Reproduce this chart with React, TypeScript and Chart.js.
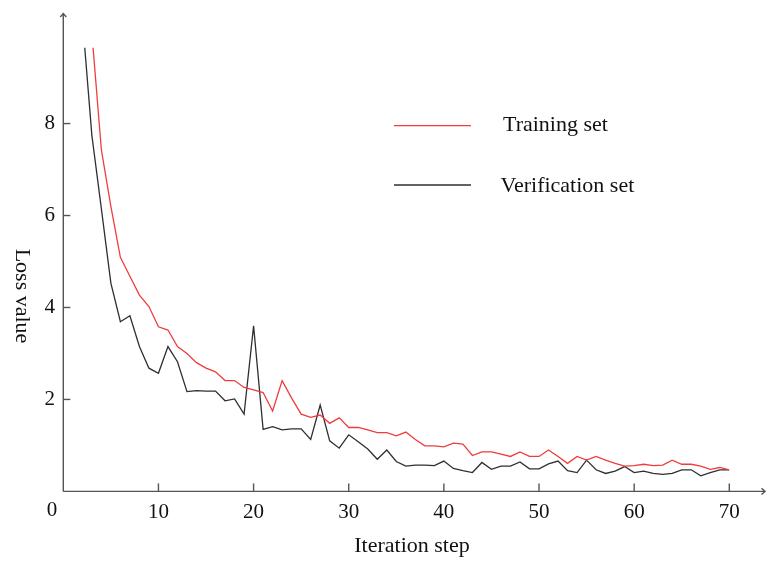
import React, { useEffect, useRef } from 'react';
import { Chart, registerables } from 'chart.js';

Chart.register(...registerables);

// ---------- data ----------
const steps = [
  2, 3, 4, 5, 6, 7, 8, 9, 10, 11, 12, 13, 14, 15, 16, 17, 18, 19, 20, 21,
  22, 23, 24, 25, 26, 27, 28, 29, 30, 31, 32, 33, 34, 35, 36, 37, 38, 39, 40, 41,
  42, 43, 44, 45, 46, 47, 48, 49, 50, 51, 52, 53, 54, 55, 56, 57, 58, 59, 60, 61,
  62, 63, 64, 65, 66, 67, 68, 69, 70,
];

const trainingLoss: (number | null)[] = [
  null, 9.98, 7.43, 6.2, 5.09, 4.68, 4.27, 4.02, 3.58, 3.51, 3.15, 3.0, 2.8, 2.68, 2.6, 2.41, 2.41, 2.26, 2.21, 2.15,
  1.75, 2.41, 2.03, 1.68, 1.61, 1.66, 1.48, 1.6, 1.39, 1.39, 1.34, 1.28, 1.28, 1.21, 1.29, 1.13, 0.99, 0.99, 0.97, 1.05,
  1.03, 0.78, 0.86, 0.86, 0.81, 0.76, 0.86, 0.76, 0.76, 0.9, 0.76, 0.61, 0.76, 0.68, 0.76, 0.68, 0.61, 0.55, 0.56, 0.59,
  0.56, 0.57, 0.68, 0.59, 0.59, 0.55, 0.48, 0.52, 0.47,
];

const verificationLoss: (number | null)[] = [
  10.3, 7.75, 6.15, 4.53, 3.69, 3.82, 3.15, 2.68, 2.57, 3.15, 2.82, 2.17, 2.19, 2.18, 2.18, 1.97, 2.01, 1.68, 3.6, 1.35,
  1.41, 1.34, 1.36, 1.36, 1.13, 1.88, 1.1, 0.94, 1.23, 1.08, 0.92, 0.7, 0.9, 0.65, 0.55, 0.57, 0.57, 0.56, 0.66, 0.5,
  0.45, 0.41, 0.63, 0.48, 0.55, 0.55, 0.64, 0.49, 0.49, 0.6, 0.66, 0.45, 0.41, 0.68, 0.47, 0.39, 0.44, 0.54, 0.41, 0.44,
  0.39, 0.37, 0.39, 0.47, 0.47, 0.34, 0.41, 0.47, 0.47,
];

const xTicks = [10, 20, 30, 40, 50, 60, 70];
const yTicks = [2, 4, 6, 8];
const seriesLabels = ['Training set', 'Verification set'];
const seriesColors = ['#f03c3c', '#2f2f2f'];
const xTitle = 'Iteration step';
const yTitle = 'Loss value';
const originLabel = '0';

const FONT = '"Liberation Serif", "Times New Roman", serif';

const decorPlugin = {
  id: 'decor',
  afterDraw(chart: any) {
    const { ctx, scales } = chart;
    const xs = scales.x;
    const ys = scales.y;
    const x0 = xs.getPixelForValue(0);
    const y0 = ys.getPixelForValue(0);
    ctx.save();
    ctx.strokeStyle = '#555';
    ctx.lineWidth = 1.4;
    ctx.lineCap = 'butt';
    // y axis with arrow
    ctx.beginPath();
    ctx.moveTo(x0, y0);
    ctx.lineTo(x0, 13.5);
    ctx.stroke();
    ctx.beginPath();
    ctx.moveTo(x0 - 3, 17);
    ctx.lineTo(x0, 13.5);
    ctx.lineTo(x0 + 3, 17);
    ctx.stroke();
    // x axis with arrow
    ctx.beginPath();
    ctx.moveTo(x0, y0);
    ctx.lineTo(765, y0);
    ctx.stroke();
    ctx.beginPath();
    ctx.moveTo(761.5, y0 - 3.2);
    ctx.lineTo(765, y0);
    ctx.lineTo(761.5, y0 + 3.2);
    ctx.stroke();
    // tick marks (inward)
    yTicks.forEach((v) => {
      const py = ys.getPixelForValue(v);
      ctx.beginPath();
      ctx.moveTo(x0, py);
      ctx.lineTo(x0 + 7, py);
      ctx.stroke();
    });
    xTicks.forEach((v) => {
      const px = xs.getPixelForValue(v);
      ctx.beginPath();
      ctx.moveTo(px, y0);
      ctx.lineTo(px, y0 - 8);
      ctx.stroke();
    });

    // origin label
    ctx.fillStyle = '#111';
    ctx.font = `21px ${FONT}`;
    ctx.textAlign = 'center';
    ctx.textBaseline = 'alphabetic';
    ctx.fillText(originLabel, 52, 516);

    // x title
    ctx.font = `22px ${FONT}`;
    ctx.fillText(xTitle, 412, 552);

    // y title (rotated clockwise)
    ctx.save();
    ctx.translate(22, 296);
    ctx.rotate(Math.PI / 2);
    ctx.textAlign = 'center';
    ctx.textBaseline = 'middle';
    ctx.fillText(yTitle, 0, 0);
    ctx.restore();

    // legend
    const legendRows = [
      { y: 125.7, textX: 503, base: 130.5 },
      { y: 185, textX: 500.5, base: 192 },
    ];
    legendRows.forEach((r, i) => {
      ctx.strokeStyle = seriesColors[i];
      ctx.lineWidth = 1.3;
      ctx.beginPath();
      ctx.moveTo(394, r.y);
      ctx.lineTo(471, r.y);
      ctx.stroke();
      ctx.fillStyle = '#111';
      ctx.textAlign = 'left';
      ctx.textBaseline = 'alphabetic';
      ctx.font = `22px ${FONT}`;
      ctx.fillText(seriesLabels[i], r.textX, r.base);
    });
    ctx.restore();
  },
};

export default function App() {
  const ref = useRef<HTMLCanvasElement | null>(null);

  useEffect(() => {
    if (!ref.current) return;
    const toPoints = (vals: (number | null)[]) =>
      steps.map((s, i) => ({ x: s, y: vals[i] }));
    const chart = new Chart(ref.current, {
      type: 'line',
      data: {
        datasets: [
          {
            label: seriesLabels[0],
            data: toPoints(trainingLoss) as any,
            borderColor: seriesColors[0],
            borderWidth: 1.3,
            pointRadius: 0,
            tension: 0,
            fill: false,
            clip: 0,
          },
          {
            label: seriesLabels[1],
            data: toPoints(verificationLoss) as any,
            borderColor: seriesColors[1],
            borderWidth: 1.3,
            pointRadius: 0,
            tension: 0,
            fill: false,
            clip: 0,
          },
        ],
      },
      options: {
        responsive: false,
        animation: false,
        events: [],
        layout: { padding: { left: 0, top: 47.7, right: 36.7, bottom: 0 } },
        plugins: {
          legend: { display: false },
          tooltip: { enabled: false },
          title: { display: false },
        },
        scales: {
          x: {
            type: 'linear',
            min: 0,
            max: 70,
            grid: { display: false, drawTicks: false },
            border: { display: false },
            afterFit: (s: any) => {
              s.height = 72.6;
            },
            ticks: {
              stepSize: 10,
              autoSkip: false,
              maxRotation: 0,
              padding: 8,
              color: '#111',
              font: { family: FONT, size: 21 },
              callback: (v: any) => (xTicks.includes(Number(v)) ? String(v) : ''),
            },
          },
          y: {
            type: 'linear',
            min: 0,
            max: 9.65,
            grid: { display: false, drawTicks: false },
            border: { display: false },
            afterFit: (s: any) => {
              s.width = 63.3;
            },
            ticks: {
              stepSize: 2,
              includeBounds: false,
              padding: 8.3,
              color: '#111',
              font: { family: FONT, size: 21 },
              callback: (v: any) => (yTicks.includes(Number(v)) ? String(v) : ''),
            },
          },
        },
      },
      plugins: [decorPlugin],
    });
    return () => chart.destroy();
  }, []);

  return (
    <div style={{ position: 'absolute', left: 0, top: 0, width: 766, height: 564, background: '#fff' }}>
      <canvas ref={ref} width={766} height={564} style={{ display: 'block' }} />
    </div>
  );
}
